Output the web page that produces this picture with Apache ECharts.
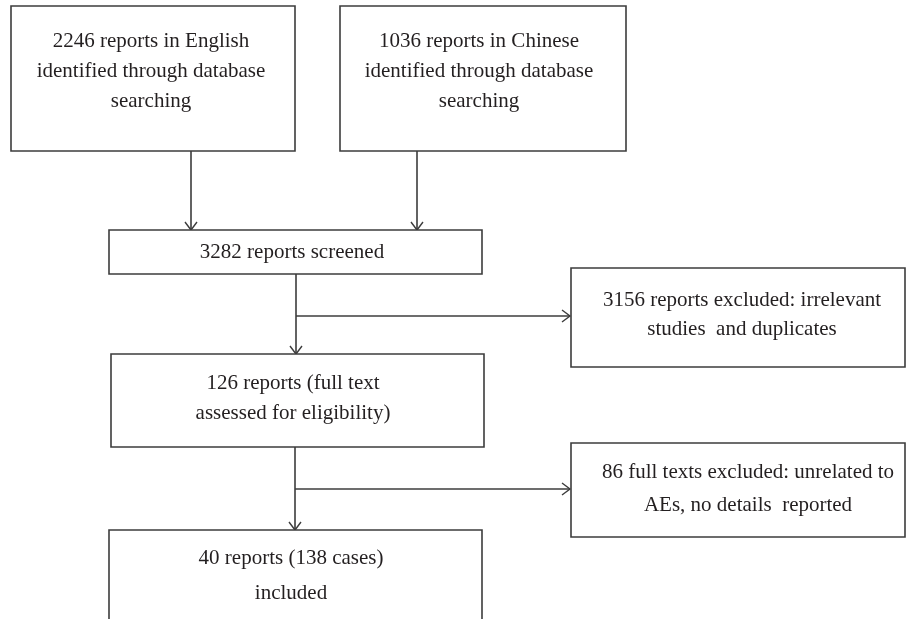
<!DOCTYPE html>
<html>
<head>
<meta charset="utf-8">
<script src="https://cdn.jsdelivr.net/npm/echarts@6/dist/echarts.min.js"></script>
<style>
html,body{margin:0;padding:0;background:#fff;}
#chart{width:906px;height:619px;}
</style>
</head>
<body>
<div id="chart"></div>
<script>
// ---- content (flowchart node texts) ----
const nodeTexts = [
  "2246 reports in English\nidentified through database\nsearching",
  "1036 reports in Chinese\nidentified through database\nsearching",
  "3282 reports screened",
  "3156 reports excluded: irrelevant\nstudies  and duplicates",
  "126 reports (full text\nassessed for eligibility)",
  "86 full texts excluded: unrelated to\nAEs, no details  reported",
  "40 reports (138 cases)\nincluded"
];
// ---- layout (box corners in page units, text centre, line height) ----
const boxRects = [
  [11, 6, 295, 151],
  [340, 6, 626, 151],
  [109, 230, 482, 274],
  [571, 268, 905, 367],
  [111, 354, 484, 447],
  [571, 443, 905, 537],
  [109, 530, 482, 640]
];
const textCentres = [
  [151, 71, 30],
  [479, 71, 30],
  [292, 252, 30],
  [742, 314.5, 29],
  [293, 398, 30],
  [748, 488.5, 33],
  [291, 575.5, 35]
];
// connectors: start point, end point (arrowhead at end)
const connectors = [
  [[191, 151], [191, 230]],
  [[417, 151], [417, 230]],
  [[296, 274], [296, 354]],
  [[296, 316], [570, 316]],
  [[295, 447], [295, 530]],
  [[295, 489], [570, 489]]
];

const LINE = '#3c3c3c';
const TEXT = '#231f20';
const FONT = 'Liberation Serif, Times New Roman, serif';

const chart = echarts.init(document.getElementById('chart'));

function boxRender(params, api) {
  const i = params.dataIndex;
  const r = boxRects[i];
  const p0 = api.coord([r[0], r[1]]);
  const p1 = api.coord([r[2], r[3]]);
  const t = textCentres[i];
  const tc = api.coord([t[0], t[1]]);
  return {
    type: 'group',
    children: [
      {
        type: 'rect',
        shape: {x: p0[0], y: p0[1], width: p1[0] - p0[0], height: p1[1] - p0[1]},
        style: {fill: '#fff', stroke: LINE, lineWidth: 1.6}
      },
      {
        type: 'text',
        style: {
          text: nodeTexts[i],
          x: tc[0], y: tc[1],
          align: 'center', verticalAlign: 'middle',
          fontSize: 21, fontFamily: FONT, fill: TEXT,
          lineHeight: t[2]
        }
      }
    ]
  };
}

function connRender(params, api) {
  const c = connectors[params.dataIndex];
  const a = api.coord(c[0]);
  const b = api.coord(c[1]);
  const dx = b[0] - a[0], dy = b[1] - a[1];
  const len = Math.sqrt(dx * dx + dy * dy);
  const ux = dx / len, uy = dy / len;
  const L = 8, W = 6;
  const h1 = [b[0] - ux * L - uy * W, b[1] - uy * L + ux * W];
  const h2 = [b[0] - ux * L + uy * W, b[1] - uy * L - ux * W];
  return {
    type: 'group',
    children: [
      {type: 'polyline', shape: {points: [a, b]}, style: {stroke: LINE, lineWidth: 1.6, fill: null}},
      {type: 'polyline', shape: {points: [h1, b, h2]}, style: {stroke: LINE, lineWidth: 1.4, fill: null}}
    ]
  };
}

chart.setOption({
  backgroundColor: '#fff',
  animation: false,
  grid: {left: 0, right: 0, top: 0, bottom: 0},
  xAxis: {type: 'value', min: 0, max: 906, show: false},
  yAxis: {type: 'value', min: 0, max: 619, inverse: true, show: false},
  series: [
    {
      type: 'custom',
      coordinateSystem: 'cartesian2d',
      renderItem: connRender,
      data: connectors.map((c, i) => [c[0][0], c[0][1], i]),
      clip: false,
      silent: true
    },
    {
      type: 'custom',
      coordinateSystem: 'cartesian2d',
      renderItem: boxRender,
      data: boxRects.map((r, i) => [r[0], r[1], i]),
      clip: true,
      silent: true
    }
  ]
});
</script>
</body>
</html>
